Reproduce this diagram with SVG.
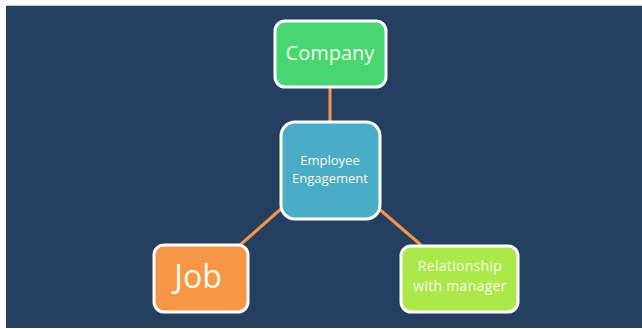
<svg xmlns="http://www.w3.org/2000/svg" width="642" height="329" viewBox="0 0 642 329">
<style>
.box{stroke:#ffffff;stroke-width:3}
.conn{stroke:#f79646;stroke-width:3;fill:none}
text{font-family:"Open Sans","Liberation Sans",sans-serif;fill:#f4fae8;text-anchor:middle}
</style>
<rect x="0" y="0" width="642" height="329" fill="#ffffff"/>
<rect x="6" y="5" width="636" height="1" fill="#c8ccd2"/>
<rect x="6" y="6" width="636" height="322" fill="#243f60"/>
<g id="connectors">
<line class="conn" x1="330" y1="87" x2="330" y2="121"/>
<line class="conn" x1="240" y1="245" x2="282" y2="208"/>
<line class="conn" x1="378" y1="208" x2="421" y2="245"/>
</g>
<g id="company">
<rect class="box" x="275" y="21" width="111" height="66" rx="10" fill="#48d672"/>
<text x="330" y="60" font-size="20">Company</text>
</g>
<g id="engagement">
<rect class="box" x="281" y="122" width="99" height="97" rx="14" fill="#4bacc6"/>
<text x="330" y="165" font-size="13">Employee</text>
<text x="330" y="183" font-size="13">Engagement</text>
</g>
<g id="job">
<rect class="box" x="154" y="245" width="94" height="67" rx="10" fill="#f79646"/>
<text x="198" y="288" font-size="32">Job</text>
</g>
<g id="relationship">
<rect class="box" x="401" y="246" width="117" height="66" rx="10" fill="#ace84a"/>
<text x="460" y="271" font-size="14" letter-spacing="0.3">Relationship</text>
<text x="460" y="291" font-size="14" letter-spacing="0.3">with manager</text>
</g>
</svg>
